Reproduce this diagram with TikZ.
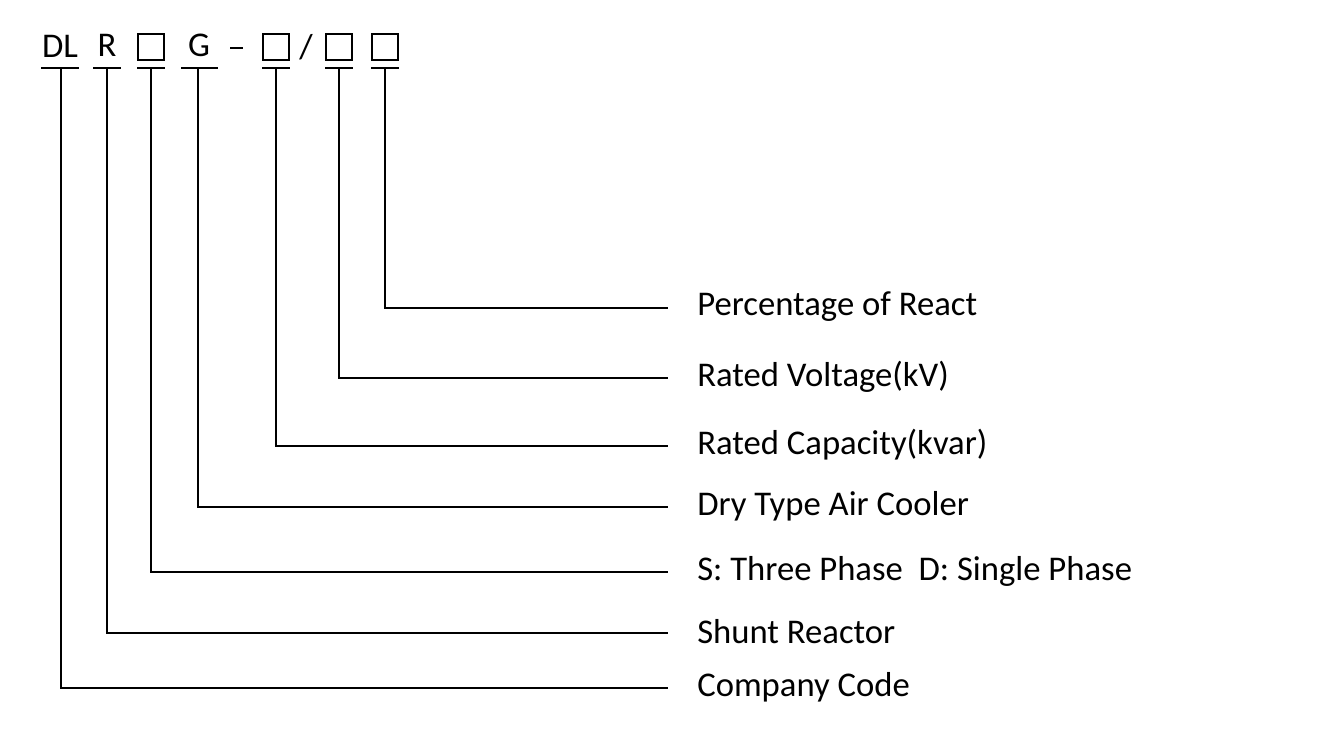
\documentclass[tikz,border=0pt]{standalone}
\usepackage{fontspec}
\setmainfont{Carlito}
\begin{document}
\begin{tikzpicture}[x=0.75pt,y=-0.75pt,
  lead/.style={line width=1.4pt},
  blank/.style={draw,line width=0.9pt,minimum size=19.5pt,inner sep=0pt},
  code/.style={font=\fontsize{26}{30}\selectfont,inner sep=0pt},
  desc/.style={font=\fontsize{26}{30}\selectfont,anchor=west,inner sep=0pt}]
\useasboundingbox (0,0) rectangle (1329,738);
% code letters
\node[code] (dl) at (60,46) {DL};
\node[code] (r) at (107,45) {R};
\node[blank] (b1) at (151,47) {};
\node[code] (g) at (199,45) {G};
\coordinate (dash) at (230,48);
\draw[line width=2.2pt] (dash) -- ++(13,0);
\node[code] (sl) at (306,47) {/};
\node[blank] (b2) at (276,47) {};
\node[blank] (b3) at (339,47) {};
\node[blank] (b4) at (385,47) {};
% underlines
\foreach \n/\a/\b in {u1/41/79,u2/93/121,u3/137/165,u4/181/218,u5/262/290,u6/325/353,u7/371/399}
  \draw[lead] (\a,68) -- (\b,68) coordinate (\n);
% descriptions
\foreach \n/\x/\y/\t in {p7/385/308/Percentage of React,p6/339/378/Rated Voltage(kV),
  p5/276/446/Rated Capacity(kvar),p4/198/507/Dry Type Air Cooler,
  p3/151/572/S: Three Phase\ \ D: Single Phase,p2/107/633/Shunt Reactor,p1/61/688/Company Code}{
  \coordinate (t\n) at (\x,68);
  \coordinate (e\n) at (668,\y);
  \node[desc] (l\n) at (697,\y-1) {\t};
  \draw[lead] (t\n) |- (e\n);
}
\end{tikzpicture}
\end{document}
